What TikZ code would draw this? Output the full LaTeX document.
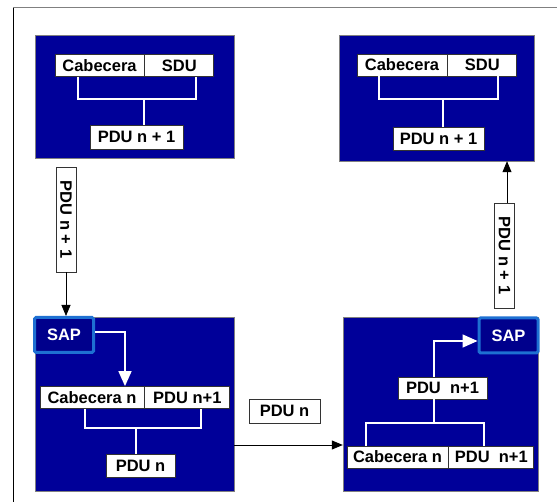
\documentclass[tikz,border=0pt]{standalone}
\usepackage{fontspec}
\setmainfont{Liberation Sans}
\usepackage{tikz}
\usetikzlibrary{positioning}
\usetikzlibrary{arrows.meta}
\definecolor{layerblue}{RGB}{0,0,153}
\definecolor{sapfill}{RGB}{0,0,140}
\definecolor{sapline}{RGB}{30,112,210}
\tikzset{
  layer/.style={draw=gray, fill=layerblue, inner sep=0pt},
  field/.style={draw=black!80, fill=white, line width=0.8pt, inner sep=0pt,
    minimum height=22pt, font=\fontsize{16.5}{17}\selectfont\bfseries},
  sap/.style={draw=sapline, line width=3pt, fill=sapfill, text=white, rounded corners=1.5pt,
    minimum width=59pt, minimum height=35pt, font=\fontsize{16.5}{17}\selectfont\bfseries},
  wire/.style={white, line width=1.6pt},
  flow/.style={black, line width=0.8pt, -{Triangle[length=11pt, width=9pt]}},
  inflow/.style={white, line width=1.6pt, -{Triangle[length=15pt, width=13pt]}}
}
\newcommand{\pduv}[3]{\node[field, rotate=-90, minimum width=105pt, minimum height=20pt] (#1) at (#2) {#3};}

\begin{document}
\begin{tikzpicture}[x=1pt, y=-1pt]
  \useasboundingbox (0,0) rectangle (557,502);
  % frame
  \draw[gray, line width=1pt] (13,8) -- (557,8);
  \draw[black, line width=1pt] (13,8) -- (13,502);

  % layer n+1, sender
  \node[layer, minimum width=199pt, minimum height=123pt] (layerA) at (134.5,96.5) {};
  \node[field, minimum width=89pt] (cabA) at (99.5,65.5) {Cabecera};
  \node[field, minimum width=69pt, right=0pt of cabA] (sduA) {SDU};
  \node[field, minimum width=93pt, minimum height=24pt] (pduA) at (136.5,137) {PDU n + 1};
  \draw[wire] (cabA.south -| 78,0) -- (78,99) -- (196,99) -- (sduA.south -| 196,0);
  \draw[wire] (144,99) -- (pduA.north -| 144,0);

  % layer n+1, receiver
  \node[layer, minimum width=195pt, minimum height=126pt] (layerB) at (436.5,98) {};
  \node[field, minimum width=90pt] (cabB) at (402,65) {Cabecera};
  \node[field, minimum width=69pt, right=0pt of cabB] (sduB) {SDU};
  \node[field, minimum width=91pt, minimum height=23pt] (pduB) at (438.5,138.5) {PDU n + 1};
  \draw[wire] (cabB.south -| 379,0) -- (379,99) -- (498,99) -- (sduB.south -| 498,0);
  \draw[wire] (443,99) -- (pduB.north -| 443,0);

  % layer n, sender
  \node[layer, minimum width=199pt, minimum height=174pt] (layerC) at (134.5,404) {};
  \node[sap] (sapC) at (64,335) {SAP};
  \node[field, minimum width=104pt] (cabC) at (92,397.5) {Cabecera n};
  \node[field, minimum width=85pt, right=0pt of cabC] (sduC) {PDU n+1};
  \node[field, minimum width=69pt, minimum height=23pt] (pduC) at (140.5,465.5) {PDU n};
  \draw[inflow] ([yshift=3pt]sapC.east) -- (125,332) -- (cabC.north -| 125,0);
  \draw[wire] (cabC.south -| 85,0) -- (85,428) -- (201,428) -- (sduC.south -| 201,0);
  \draw[wire] (136,428) -- (pduC.north -| 136,0);

  % layer n, receiver
  \node[layer, minimum width=195pt, minimum height=174pt] (layerD) at (440.5,404) {};
  \node[sap] (sapD) at (508.5,335.5) {SAP};
  \node[field, minimum width=89pt] (pduD) at (442.5,388) {PDU~~n+1};
  \node[field, minimum width=101pt] (cabD) at (397.5,457) {Cabecera n};
  \node[field, minimum width=85pt, right=0pt of cabD] (sduD) {PDU~~n+1};
  \draw[inflow] (pduD.north -| 434,0) -- (434,341) -- (sapD.west |- 0,341);
  \draw[wire] (434,423) -- (pduD.south -| 434,0);
  \draw[wire] (cabD.north -| 366,0) -- (366,423) -- (484,423) -- (sduD.north -| 484,0);

  % units between layers
  \pduv{pduL}{66,219.5}{PDU n + 1}
  \pduv{pduR}{504.5,255.5}{PDU n + 1}
  \node[field, minimum width=71pt, minimum height=24pt] (pduM) at (284.5,411) {PDU n};
  \draw[flow] (pduL.east) -- (sapC.north -| pduL.east);
  \draw[flow] (pduR.west -| 507,0) -- (layerB.south -| 507,0);
  \draw[flow] ([yshift=-41pt]layerC.east) -- (layerD.west |- 0,445);
\end{tikzpicture}
\end{document}
